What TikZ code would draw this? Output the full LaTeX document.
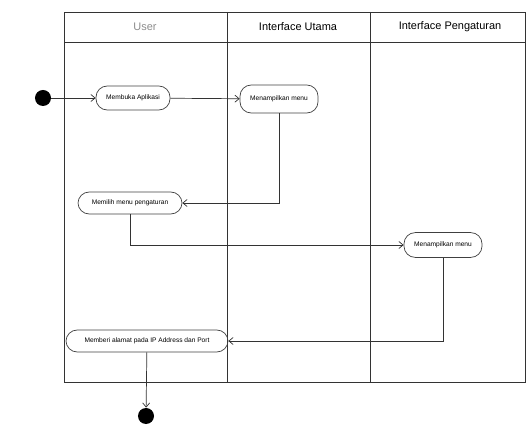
\documentclass[tikz,border=0pt]{standalone}
\usepackage{fontspec}
\setmainfont{Liberation Sans}
\usetikzlibrary{arrows.meta}
\begin{document}
\begin{tikzpicture}[x=0.025cm, y=-0.025cm, >={Straight Barb[length=3pt, width=5pt]}, line width=0.5pt,
  act/.style={draw=black!75, rounded corners=8pt, minimum height=0.6cm, font=\fontsize{4.7}{5}\selectfont, inner sep=1pt},
  lane/.style={draw=black!80},
  head/.style={font=\fontsize{7.8}{9}\selectfont},
  dot/.style={circle, fill=black, minimum size=0.4cm, inner sep=0pt},
  flow/.style={draw=black!80, ->}]
\useasboundingbox (0,0) rectangle (526,425);
% swimlanes
\draw[lane] (64,12) rectangle (525,382);
\draw[lane] (64,42) -- (525,42);
\draw[lane] (227,12) -- (227,382); \draw[lane] (370,12) -- (370,382);
\node[head, text=black!45] (hUser) at (145,27) {User};
\node[head] (hUtama) at (298,27) {Interface Utama};
\node[head] (hAtur) at (450,27) {Interface Pengaturan};
% activities
\node[dot] (start) at (43,98) {};
\node[act, minimum width=1.85cm] (buka) at (133,98) {Membuka Aplikasi};
\node[act, minimum width=1.95cm, minimum height=0.7cm] (menu1) at (279,99) {Menampilkan menu};
\node[act, minimum width=2.6cm, minimum height=0.55cm] (pilih) at (130,203) {Memilih menu pengaturan};
\node[act, minimum width=1.95cm, minimum height=0.62cm] (menu2) at (443,245) {Menampilkan menu};
\node[act, minimum width=4.05cm, minimum height=0.55cm] (alamat) at (147,341) {Memberi alamat pada IP Address dan Port};
\node[dot] (stop) at (146,416) {};
% flows
\draw[flow] (start) -- (buka);
\draw[flow] (buka) -- (menu1);
\draw[flow] (menu1.south) |- (pilih.east);
\draw[flow] (pilih.south) |- (menu2.west);
\draw[flow] (menu2.south) |- (alamat.east);
\draw[flow] (alamat) -- (stop);
\end{tikzpicture}
\end{document}
